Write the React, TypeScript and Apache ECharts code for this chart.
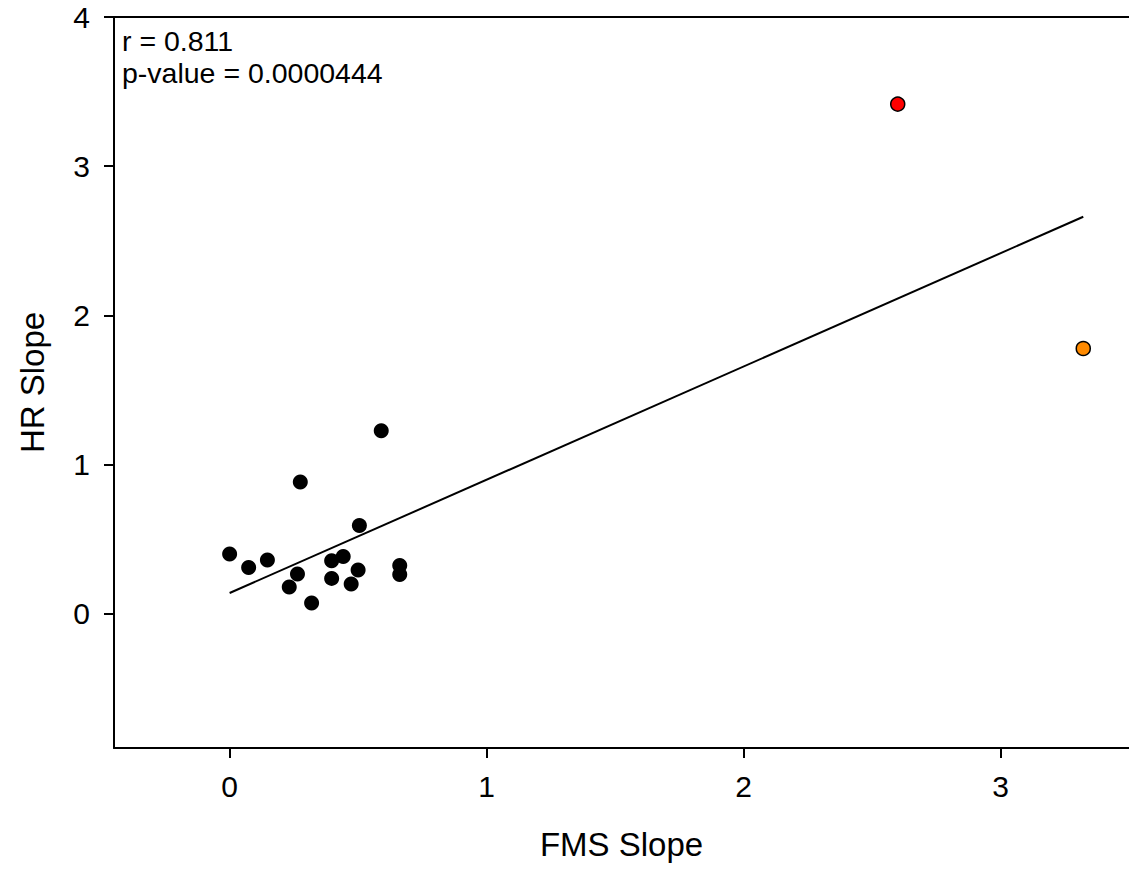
import React, { useEffect, useRef } from "react";
import * as echarts from "echarts";

const blackX = [0.0, 0.074, 0.147, 0.264, 0.232, 0.275, 0.319, 0.397, 0.442, 0.397, 0.473, 0.5, 0.505, 0.59, 0.662, 0.662];
const blackY = [0.4, 0.31, 0.36, 0.266, 0.179, 0.883, 0.072, 0.355, 0.384, 0.237, 0.199, 0.293, 0.592, 1.227, 0.324, 0.263];
const redPoint = [2.6, 3.416];
const orangePoint = [3.322, 1.778];
const fitX = [0, 3.322];
const fitY = [0.139, 2.661];
const xTicks = [0, 1, 2, 3];
const yTicks = [0, 1, 2, 3, 4];
const annotations = ["r = 0.811", "p-value = 0.0000444"];

const FONT = "Liberation Sans, Arial, sans-serif";

export default function App() {
  const ref = useRef<HTMLDivElement>(null);
  useEffect(() => {
    if (!ref.current) return;
    const chart = echarts.init(ref.current, null, { renderer: "svg" });
    const axisCommon = {
      axisLine: { show: true, onZero: false, lineStyle: { color: "#000", width: 2 } },
      axisTick: { show: true, inside: false, length: 10, lineStyle: { color: "#000", width: 2 } },
      splitLine: { show: false },
      nameTextStyle: { fontFamily: FONT, fontSize: 33, color: "#000" },
    };
    chart.setOption({
      animation: false,
      backgroundColor: "#fff",
      grid: {
        left: 114,
        top: 17,
        width: 1016,
        height: 731,
        show: false,
      },
      xAxis: [
        {
          type: "value",
          min: -0.45,
          max: 3.5,
          name: "FMS Slope",
          nameLocation: "middle",
          nameGap: 80,
          ...axisCommon,
          axisTick: { ...axisCommon.axisTick, customValues: xTicks },
          axisLabel: {
            customValues: xTicks,
            fontFamily: FONT,
            fontSize: 30,
            color: "#000",
            margin: 23,
          },
        },
        {
          type: "value",
          position: "top",
          min: -0.45,
          max: 3.5,
          axisLine: { show: true, onZero: false, lineStyle: { color: "#000", width: 2 } },
          axisTick: { show: false },
          axisLabel: { show: false },
          splitLine: { show: false },
        },
      ],
      yAxis: {
        type: "value",
        min: -0.9,
        max: 4,
        name: "HR Slope",
        nameLocation: "middle",
        nameGap: 65,
        ...axisCommon,
        axisTick: { ...axisCommon.axisTick, customValues: yTicks },
        axisLabel: {
          customValues: yTicks,
          fontFamily: FONT,
          fontSize: 30,
          color: "#000",
          margin: 24,
        },
      },
      series: [
        {
          type: "line",
          data: fitX.map((x, i) => [x, fitY[i]]),
          symbol: "none",
          lineStyle: { color: "#000", width: 2 },
          z: 2,
        },
        {
          type: "scatter",
          data: blackX.map((x, i) => [x, blackY[i]]),
          symbol: "circle",
          symbolSize: 15,
          itemStyle: { color: "#000", opacity: 1 },
          z: 3,
        },
        {
          type: "scatter",
          data: [redPoint],
          symbol: "circle",
          symbolSize: 14,
          itemStyle: { color: "#ff0000", borderColor: "#000", borderWidth: 1.5, opacity: 1 },
          z: 3,
        },
        {
          type: "scatter",
          data: [orangePoint],
          symbol: "circle",
          symbolSize: 14,
          itemStyle: { color: "#ff8a00", borderColor: "#000", borderWidth: 1.5, opacity: 1 },
          z: 3,
        },
      ],
      graphic: annotations.map((t, i) => ({
        type: "text",
        left: 122,
        top: i === 0 ? 26 : 58,
        style: {
          text: t,
          fontFamily: FONT,
          fontSize: 28.5,
          fill: "#000",
        },
      })),
    });
    return () => chart.dispose();
  }, []);
  return (
    <div
      ref={ref}
      style={{ position: "fixed", left: 0, top: 0, width: 1129, height: 869, background: "#fff" }}
    />
  );
}
